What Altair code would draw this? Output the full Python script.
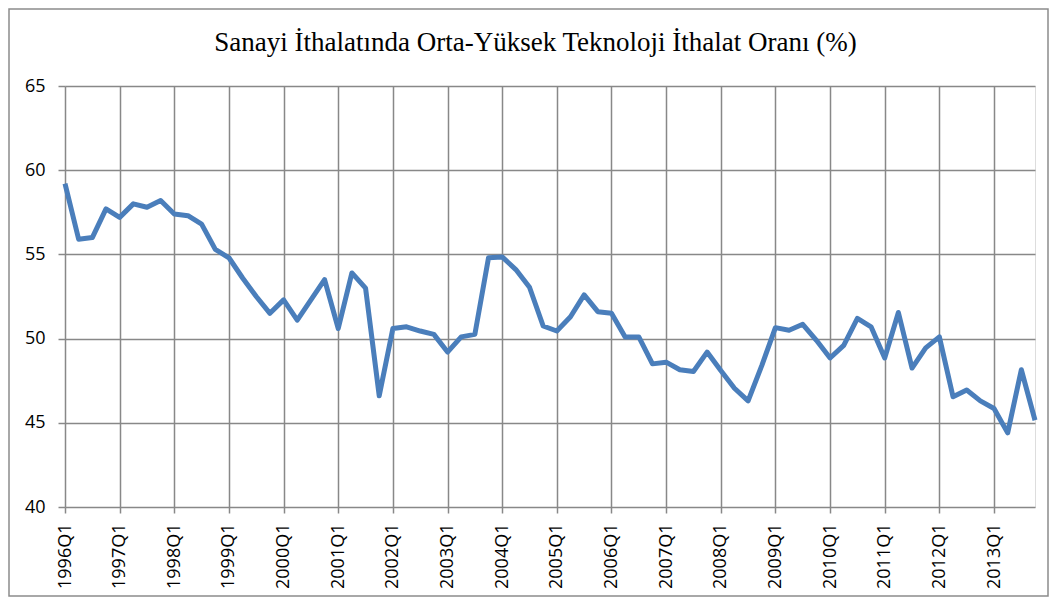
import altair as alt
import pandas as pd

years = list(range(1996, 2014))
quarters = [f"{y}Q{q}" for y in years for q in range(1, 5)]

values = [
    59.2, 55.9, 56.0, 57.7,
    57.2, 58.0, 57.8, 58.2,
    57.4, 57.3, 56.8, 55.3,
    54.8, 53.6, 52.5, 51.5,
    52.3, 51.1, 52.3, 53.5,
    50.6, 53.9, 53.0, 46.6,
    50.6, 50.7, 50.45, 50.25,
    49.2, 50.1, 50.25, 54.8,
    54.85, 54.1, 53.05, 50.75,
    50.45, 51.3, 52.6, 51.6,
    51.5, 50.1, 50.1, 48.5,
    48.6, 48.15, 48.05, 49.2,
    48.1, 47.05, 46.3, 48.4,
    50.65, 50.5, 50.85, 49.9,
    48.85, 49.6, 51.2, 50.7,
    48.85, 51.55, 48.25, 49.45,
    50.1, 46.55, 46.95, 46.3,
    45.85, 44.4, 48.15, 45.15,
]

title_text = "Sanayi İthalatında Orta-Yüksek Teknoloji İthalat Oranı (%)"
y_ticks = [40, 45, 50, 55, 60, 65]

df = pd.DataFrame({"idx": list(range(len(quarters))), "quarter": quarters, "value": values})
q1_idx = [i for i, q in enumerate(quarters) if q.endswith("Q1")]

W, H = 970, 421
PAD = {"left": 57, "top": 78, "right": 14, "bottom": 90}

line = alt.Chart(df).mark_line(
    color="#4A7EBB", strokeWidth=5, strokeJoin="round", strokeCap="butt", clip=False
).encode(
    x=alt.X(
        "idx:Q",
        scale=alt.Scale(domain=[0, len(quarters) - 1], nice=False, zero=False),
        axis=alt.Axis(
            values=q1_idx,
            labelExpr="toString(1996 + datum.value / 4) + 'Q1'",
            labelAngle=-90,
            labelFont="Open Sans",
            labelFontSize=18,
            labelColor="#000000",
            labelPadding=10,
            tickSize=6,
            tickColor="#888888",
            tickWidth=1.5,
            grid=True,
            gridColor="#888888",
            gridWidth=1.5,
            domain=False,
            title=None,
        ),
    ),
    y=alt.Y(
        "value:Q",
        scale=alt.Scale(domain=[40, 65], nice=False, zero=False),
        axis=alt.Axis(
            values=y_ticks,
            labelFont="Open Sans",
            labelFontSize=18,
            labelColor="#000000",
            labelPadding=13,
            tickSize=7,
            tickColor="#888888",
            tickWidth=1.5,
            grid=True,
            gridColor="#888888",
            gridWidth=1.5,
            domain=False,
            title=None,
        ),
    ),
)

frame = alt.Chart(alt.Data(values=[{"a": 1}])).mark_rect(
    fill=None, stroke="#8c8c8c", strokeWidth=1.5, clip=False
).encode(
    x=alt.value(-PAD["left"] + 1),
    x2=alt.value(W + PAD["right"] - 1),
    y=alt.value(-PAD["top"] + 1),
    y2=alt.value(H + PAD["bottom"] - 1),
)

title = alt.Chart(alt.Data(values=[{"t": title_text}])).mark_text(
    font="Liberation Serif",
    fontSize=27,
    color="#000000",
    align="center",
    baseline="alphabetic",
).encode(
    text="t:N",
    x=alt.value(470.5),
    y=alt.value(-35),
)

chart = alt.layer(frame, line, title).properties(
    width=W,
    height=H,
    padding=PAD,
    autosize=alt.AutoSizeParams(type="none"),
).configure_view(stroke=None).configure(background="#ffffff")

chart.save("out.html", embed_options={"renderer": "svg", "actions": False})
